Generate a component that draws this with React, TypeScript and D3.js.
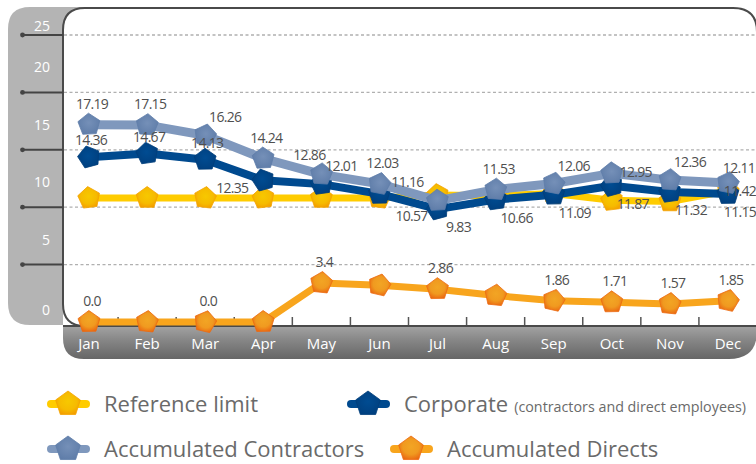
import React from "react";
import * as d3 from "d3";

const months = ["Jan", "Feb", "Mar", "Apr", "May", "Jun", "Jul", "Aug", "Sep", "Oct", "Nov", "Dec"];
const referenceLimit = [10.8, 10.8, 10.8, 10.8, 10.8, 10.8, 11.06, 11.0, 11.2, 10.6, 10.5, 11.42];
const corporate = [14.36, 14.67, 14.13, 12.35, 12.01, 11.16, 9.83, 10.66, 11.09, 11.87, 11.32, 11.15];
const contractors = [17.19, 17.15, 16.26, 14.24, 12.86, 12.03, 10.57, 11.53, 12.06, 12.95, 12.36, 12.11];
const directs = [0, 0, 0, 0, 3.4, 3.2, 2.86, 2.3, 1.86, 1.71, 1.57, 1.85];
const yTickValues = [0, 5, 10, 15, 20, 25];

// label placement codes (null = no label)
const refPlace = [null, null, null, null, null, null, null, null, null, null, null, "re"];
const corpPlace = ["t2", "t2", "t2", "l", "tr", "rt", "br", "br", "br", "br", "br", "be"];
const contrPlace = ["t", "t", "tr", "t", "tl", "t", "bl", "t", "tr", "r", "tr", "te"];
const dirPlace = ["t", null, "t", null, "t", null, "t", null, "t", "t", "t", "t"];

const OFF: Record<string, [number, number]> = {
  t: [3, -21],
  t2: [2, -17],
  tl: [-12, -19],
  tr: [20, -18],
  te: [11, -15],
  rt: [28, -12],
  r: [24, -1],
  re: [12, 0],
  br: [21, 18],
  be: [12, 18],
  bl: [-26, 15],
  l: [-31, 8],
};

const W = 756;
const H = 464;
const x = d3.scaleBand<string>().domain(months).range([60, 757]);
const y = d3.scaleLinear().domain([0, 25]).range([322, 35]);
const cx = (m: string) => (x(m) as number) + x.bandwidth() / 2;

const pentagon = (px: number, py: number, r: number, rot = 0) => {
  const pts: [number, number][] = d3.range(5).map((i) => {
    const a = -Math.PI / 2 + (i * 2 * Math.PI) / 5 + (rot * Math.PI) / 180;
    return [px + r * Math.cos(a), py + r * Math.sin(a)];
  });
  return d3.line().curve(d3.curveLinearClosed)(pts) as string;
};

const FONT = "'Open Sans', 'Noto Sans', sans-serif";

type Series = {
  key: string;
  values: number[];
  place: (string | null)[];
  line: string;
  lineW: number;
  grad: string;
  stroke: string;
  rot: number;
};

const series: Series[] = [
  { key: "ref", values: referenceLimit, place: refPlace, line: "#ffcc00", lineW: 7, grad: "gRef", stroke: "#f4a300", rot: 0 },
  { key: "corp", values: corporate, place: corpPlace, line: "#004a8f", lineW: 8, grad: "gCorp", stroke: "#003d7a", rot: -8 },
  { key: "contr", values: contractors, place: contrPlace, line: "#7f98bd", lineW: 9, grad: "gContr", stroke: "#5f7ea9", rot: 4 },
  { key: "dir", values: directs, place: dirPlace, line: "#f8a51d", lineW: 7, grad: "gDir", stroke: "#ec6b10", rot: 6 },
];

const fmt = (v: number) => (v === 0 ? "0.0" : String(v));

export default function App() {
  const lineGen = d3
    .line<number>()
    .x((_, i) => cx(months[i]))
    .y((d) => y(d));

  const gridTicks = yTickValues.filter((t) => t > 0);
  const labelY = (v: number) => (v === 0 ? y(0) - 12 : Math.max(y(v) - 25, 26));

  const legend = [
    { label: "Reference limit", sub: "", s: series[0], lx: 47, ly: 404 },
    { label: "Corporate", sub: "(contractors and direct employees)", s: series[1], lx: 347, ly: 404 },
    { label: "Accumulated Contractors", sub: "", s: series[2], lx: 47, ly: 449 },
    { label: "Accumulated Directs", sub: "", s: series[3], lx: 390, ly: 449 },
  ];

  return (
    <svg
      width={W}
      height={H}
      style={{ position: "absolute", left: 0, top: 0, fontFamily: FONT }}
    >
      <defs>
        <radialGradient id="gRef" cx="50%" cy="45%" r="60%">
          <stop offset="0%" stopColor="#f7c800" />
          <stop offset="60%" stopColor="#f6bb00" />
          <stop offset="100%" stopColor="#f39a00" />
        </radialGradient>
        <radialGradient id="gCorp" cx="50%" cy="45%" r="60%">
          <stop offset="0%" stopColor="#004c92" />
          <stop offset="100%" stopColor="#003f7e" />
        </radialGradient>
        <radialGradient id="gContr" cx="50%" cy="45%" r="60%">
          <stop offset="0%" stopColor="#7590b8" />
          <stop offset="100%" stopColor="#5e7ca8" />
        </radialGradient>
        <radialGradient id="gDir" cx="50%" cy="45%" r="60%">
          <stop offset="0%" stopColor="#f2a524" />
          <stop offset="55%" stopColor="#f09a20" />
          <stop offset="100%" stopColor="#ea6410" />
        </radialGradient>
        <linearGradient id="gBand" x1="0" y1="0" x2="0" y2="1">
          <stop offset="0%" stopColor="#a3a3a3" />
          <stop offset="45%" stopColor="#858585" />
          <stop offset="100%" stopColor="#666666" />
        </linearGradient>
      </defs>

      {/* left gray axis panel */}
      <path d="M8,29 Q8,7 30,7 H110 V325 H30 Q8,325 8,303 Z" fill="#b4b4b4" />

      {/* plot area */}
      <path
        d={`M63,${y(0) + 4} V30 Q63,8 85,8 H733 Q757,8 757,32 V${y(0) + 4} Z`}
        fill="#ffffff"
      />
      <path
        d={`M85,326 Q63,326 63,304 V30 Q63,8 85,8 H733 Q757,8 757,32`}
        fill="none"
        stroke="#4a4a4a"
        strokeWidth={2}
      />

      {/* gridlines */}
      {gridTicks.map((t) => (
        <line
          key={"g" + t}
          x1={64}
          x2={757}
          y1={y(t)}
          y2={y(t)}
          stroke="#b0b0b0"
          strokeWidth={1.3}
          strokeDasharray="3 2.5"
        />
      ))}

      {/* y tick markers */}
      {gridTicks.map((t) => (
        <g key={"tk" + t}>
          <line x1={22} x2={63} y1={y(t)} y2={y(t)} stroke="#444" strokeWidth={2} />
          <circle cx={22.5} cy={y(t)} r={2.4} fill="#444" />
        </g>
      ))}
      {yTickValues.map((t) => (
        <text
          key={"yl" + t}
          x={50}
          y={labelY(t) + 5}
          textAnchor="end"
          fill="#ffffff"
          fontSize={14}
        >
          {t}
        </text>
      ))}

      {/* x ticks */}
      {months.slice(1).map((m) => (
        <line
          key={"xt" + m}
          x1={x(m) as number}
          x2={x(m) as number}
          y1={317}
          y2={326}
          stroke="#555"
          strokeWidth={1.5}
        />
      ))}

      {/* x band */}
      <path d="M63,326 H757 V331 Q757,359 729,359 H84 Q63,359 63,338 Z" fill="url(#gBand)" />
      <line x1={63} x2={757} y1={326} y2={326} stroke="#4a4a4a" strokeWidth={2} />
      {months.map((m) => (
        <text
          key={"xl" + m}
          x={cx(m)}
          y={349}
          textAnchor="middle"
          fill="#ffffff"
          fontSize={15}
        >
          {m}
        </text>
      ))}

      {/* series */}
      {series.map((s) => (
        <g key={s.key}>
          <path
            d={lineGen(s.values) as string}
            fill="none"
            stroke={s.line}
            strokeWidth={s.lineW}
            strokeLinejoin="round"
            strokeLinecap="round"
          />
          {s.values.map((v, i) => (
            <path
              key={i}
              d={pentagon(cx(months[i]), y(v), 11.5, s.rot + (i % 3) * 7 - 7)}
              fill={`url(#${s.grad})`}
              stroke={s.stroke}
              strokeWidth={0.8}
              strokeLinejoin="round"
            />
          ))}
        </g>
      ))}

      {/* data labels */}
      {series.map((s) =>
        s.values.map((v, i) => {
          const p = s.place[i];
          if (!p) return null;
          const [dx, dy] = OFF[p];
          return (
            <text
              key={s.key + "l" + i}
              x={cx(months[i]) + dx}
              y={y(v) + dy + 5}
              textAnchor="middle"
              fill="#4f4f4f"
              fontSize={14}
              letterSpacing={-0.7}
            >
              {fmt(v)}
            </text>
          );
        })
      )}

      {/* legend */}
      {legend.map((l) => (
        <g key={l.label}>
          <line
            x1={l.lx + 4}
            x2={l.lx + 39}
            y1={l.ly}
            y2={l.ly}
            stroke={l.s.line}
            strokeWidth={8}
            strokeLinecap="round"
          />
          <path
            d={pentagon(l.lx + 21, l.ly, 13, 0)}
            fill={`url(#${l.s.grad})`}
            stroke={l.s.stroke}
            strokeWidth={0.8}
          />
          <text x={l.lx + 57} y={l.ly + 8} fill="#6a6a6a" fontSize={22}>
            {l.label}
            {l.sub && (
              <tspan fontSize={14.3} dx={6}>
                {l.sub}
              </tspan>
            )}
          </text>
        </g>
      ))}
    </svg>
  );
}
